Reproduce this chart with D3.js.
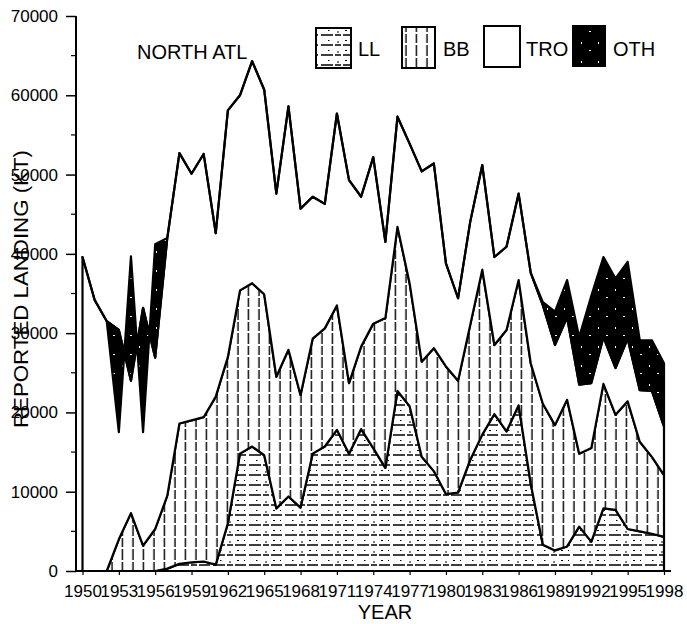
<!DOCTYPE html>
<html><head><meta charset="utf-8">
<script src="https://cdn.jsdelivr.net/npm/d3@7"></script>
<style>
body{margin:0;background:#fff}
svg{display:block}
text{font-family:"Liberation Sans",Arial,sans-serif;fill:#000}
</style>
</head><body>
<svg id="c" width="687" height="624"></svg>
<script>
const years = [1950,1951,1952,1953,1954,1955,1956,1957,1958,1959,
  1960,1961,1962,1963,1964,1965,1966,1967,1968,1969,
  1970,1971,1972,1973,1974,1975,1976,1977,1978,1979,
  1980,1981,1982,1983,1984,1985,1986,1987,1988,1989,
  1990,1991,1992,1993,1994,1995,1996,1997,1998];
const LL  = [0,0,0,0,0,0,0,300,900,1100,
  1200,800,6000,14800,15700,14600,7900,9400,8000,14800,
  15700,17800,14800,17900,15500,13000,22700,20800,14400,12600,
  9700,9900,14000,17200,19800,17600,20900,11000,3300,2600,
  3100,5600,3700,7900,7700,5300,5000,4700,4300];
const BB  = [0,0,0,4000,7300,3200,5300,9200,17700,17900,
  18200,21200,21000,20600,20600,20300,16600,18500,14200,14500,
  14900,15700,8900,10400,15700,18900,20700,15500,12000,15500,
  16100,14100,17000,20800,8700,12800,15800,15200,17800,15800,
  18500,9200,11800,15700,12000,16100,11300,9700,7800];
const TRO = [39600,34200,31500,26400,16700,30000,21600,32500,34100,31100,
  33200,20600,31100,24600,28000,25800,23100,30700,23500,17900,
  15700,24200,25600,18900,21000,9600,13900,17600,24000,23300,
  13000,10400,13000,13200,11100,10500,10900,11400,12400,10100,
  10400,8700,8200,5900,5900,7900,6500,8300,6100];
const OTH = [0,0,0,-12900,15700,-15700,14300,0,0,0,
  0,0,0,0,0,0,0,0,0,0,
  0,0,0,0,0,0,0,0,0,0,
  0,0,0,0,0,0,0,0,400,4200,
  4700,6000,11000,10100,11300,9700,6300,6400,8000];
const seriesKeys = ["LL","BB","TRO","OTH"];
const xTicks = [1950,1953,1956,1959,1962,1965,1968,1971,1974,1977,1980,1983,1986,1989,1992,1995,1998];
const yTicks = [0,10000,20000,30000,40000,50000,60000,70000];
const yMinor = [5000,15000,25000,35000,45000,55000,65000];

const svg = d3.select("#c");
const x = d3.scaleLinear().domain([1950,1998]).range([82.5,664]);
const y = d3.scaleLinear().domain([0,70000]).range([571,16]);

// patterns
const defs = svg.append("defs");
const pLL = defs.append("pattern").attr("id","pLL").attr("patternUnits","userSpaceOnUse")
  .attr("width",36).attr("height",10);
pLL.append("rect").attr("width",36).attr("height",10).attr("fill","#fff");
pLL.append("path").attr("d","M0 5H9M11 5H17M19 5H30M33 5H36").attr("stroke","#000").attr("stroke-width",1.5);
pLL.append("path").attr("d","M4 0.5h1.5M21 0.5h2M28 0.5h1M14 1v2").attr("stroke","#000").attr("stroke-width",1);

const pBB = defs.append("pattern").attr("id","pBB").attr("patternUnits","userSpaceOnUse")
  .attr("width",10.5).attr("height",24).attr("x",2);
pBB.append("rect").attr("width",10.5).attr("height",24).attr("fill","#fff");
pBB.append("path").attr("d","M5 0V8M5 10V19M5 21V24").attr("stroke","#000").attr("stroke-width",1.4);

const pOTH = defs.append("pattern").attr("id","pOTH").attr("patternUnits","userSpaceOnUse")
  .attr("width",17).attr("height",19);
pOTH.append("rect").attr("width",17).attr("height",19).attr("fill","#000");
[[3,4,1,2],[11,12,2,1]].forEach(r=>{
  pOTH.append("rect").attr("x",r[0]).attr("y",r[1]).attr("width",r[2]).attr("height",r[3]).attr("fill","#fff");
});

// data + stack
const rows = years.map((yr,i)=>({year:yr, LL:LL[i], BB:BB[i], TRO:TRO[i], OTH:OTH[i]}));
const layers = d3.stack().keys(seriesKeys).offset(d3.stackOffsetNone)(rows);
const area = d3.area().x(d=>x(d.data.year)).y0(d=>y(d[0])).y1(d=>y(d[1]));
const fills = {LL:"url(#pLL)", BB:"url(#pBB)", TRO:"#fff", OTH:"url(#pOTH)"};

svg.append("g").selectAll("path").data(layers).join("path")
  .attr("d",area).attr("fill",d=>fills[d.key])
  .attr("stroke","#000").attr("stroke-width",2.2).attr("stroke-linejoin","round");

// axes
const yAxis = d3.axisLeft(y).tickValues(yTicks).tickSize(10).tickSizeOuter(0).tickPadding(8).tickFormat(d3.format("d"));
const gy = svg.append("g").attr("transform","translate(76,0)").call(yAxis);
gy.select(".domain").remove();
gy.selectAll(".tick line").attr("stroke","#000").attr("stroke-width",1.5);
gy.selectAll(".tick text").attr("font-size",17).attr("font-family","Liberation Sans, Arial, sans-serif");
gy.selectAll(".minor").data(yMinor).join("line").attr("class","minor")
  .attr("x1",-5).attr("x2",0).attr("y1",d=>y(d)).attr("y2",d=>y(d)).attr("stroke","#000").attr("stroke-width",1.2);
svg.append("line").attr("x1",76).attr("x2",76).attr("y1",y(70000)).attr("y2",y(0)+1).attr("stroke","#000").attr("stroke-width",2);

const xAxis = d3.axisBottom(x).tickValues(xTicks).tickSize(4).tickSizeOuter(0).tickPadding(10).tickFormat(d3.format("d"));
const gx = svg.append("g").attr("transform","translate(0,571)").call(xAxis);
gx.select(".domain").remove();
gx.selectAll(".tick line").attr("stroke","#000").attr("stroke-width",1.2);
gx.selectAll(".tick text").attr("font-size",17).attr("font-family","Liberation Sans, Arial, sans-serif");
svg.append("line").attr("x1",75).attr("x2",671).attr("y1",571).attr("y2",571).attr("stroke","#000").attr("stroke-width",2);

// titles
svg.append("text").attr("x",137).attr("y",59).attr("font-size",20).text("NORTH ATL");
svg.append("text").attr("x",385).attr("y",619).attr("text-anchor","middle").attr("font-size",20).text("YEAR");
svg.append("text").attr("transform","translate(28,289) rotate(-90)").attr("text-anchor","middle")
  .attr("font-size",21).attr("textLength",278).attr("lengthAdjust","spacingAndGlyphs")
  .text("REPORTED LANDING (KT)");

// legend
const legend = [
  {key:"LL", bx:316, by:28, bw:35, bh:40, tx:358},
  {key:"BB", bx:402, by:27, bw:33, bh:41, tx:443},
  {key:"TRO", bx:484, by:26, bw:36, bh:41, tx:526},
  {key:"OTH", bx:573, by:26, bw:32, bh:40, tx:613}
];
const lg = svg.append("g").selectAll("g").data(legend).join("g");
lg.append("rect").attr("x",d=>d.bx).attr("y",d=>d.by).attr("width",d=>d.bw).attr("height",d=>d.bh)
  .attr("fill",d=>fills[d.key]).attr("stroke","#000").attr("stroke-width",2);
lg.append("text").attr("x",d=>d.tx).attr("y",56).attr("font-size",20).text(d=>d.key);
</script>
</body></html>
